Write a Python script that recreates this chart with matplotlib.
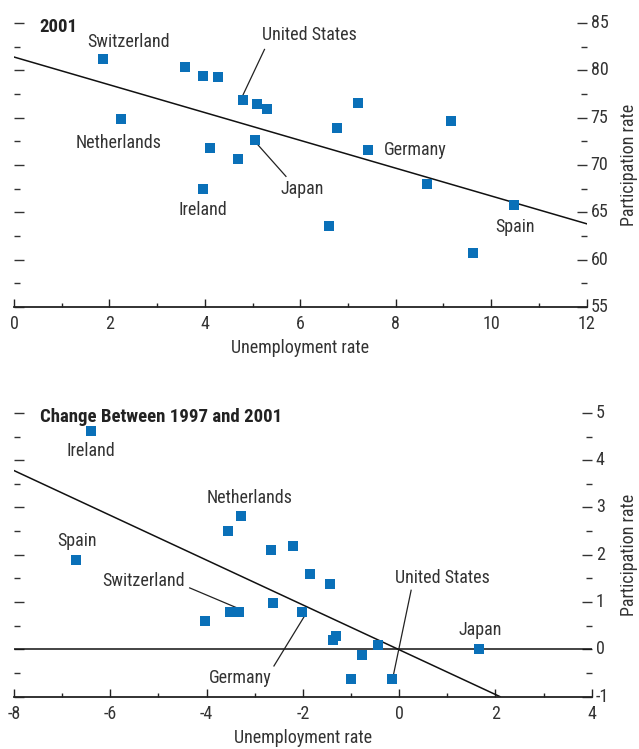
import numpy as np
import matplotlib
matplotlib.use("Agg")
import matplotlib.pyplot as plt
from matplotlib.ticker import MultipleLocator

plt.rcParams['font.family'] = ['Roboto Condensed', 'Liberation Sans', 'DejaVu Sans']
plt.rcParams['axes.unicode_minus'] = False

# 2001 levels
unemp_2001 = [1.86, 3.58, 3.97, 4.27, 4.79, 5.10, 5.31, 2.24, 5.05, 4.10, 4.70, 3.96,
              7.22, 6.78, 9.15, 7.43, 8.66, 10.49, 6.61, 9.63]
part_2001 = [81.2, 80.35, 79.4, 79.3, 76.9, 76.45, 75.9, 74.9, 72.6, 71.8, 70.6, 67.5,
             76.5, 73.9, 74.65, 71.56, 68.0, 65.76, 63.58, 60.73]
fit_2001 = [81.4, 63.8]  # values at x=0 and x=12

# change 1997-2001
unemp_chg = [-6.40, -3.29, -3.56, -6.71, -2.67, -2.21, -1.86, -3.51, -3.32, -2.61, -2.01,
             -4.04, -1.44, -1.31, -1.37, -0.44, -0.78, -0.99, -0.15, 1.65]
part_chg = [4.62, 2.81, 2.51, 1.90, 2.11, 2.19, 1.60, 0.80, 0.80, 0.99, 0.80,
            0.59, 1.39, 0.29, 0.19, 0.09, -0.12, -0.62, -0.62, 0.0]
fit_chg = [3.78, -1.0]  # values at x=-8 and x=2.1
fit_chg_x = [-8, 2.1]

blue = '#0a70b8'
txt = '#333333'
fs = 13

fig = plt.figure(figsize=(6.39, 7.49), dpi=100)
ax1 = fig.add_axes([0.0219, 0.590, 0.896, 0.3794])
ax2 = fig.add_axes([0.0219, 0.0698, 0.904, 0.379])


def style(ax, xlim, ylim, ymaj, ymin, label_x):
    ax.set_xlim(*xlim)
    ax.set_ylim(*ylim)
    for s in ['top', 'left', 'right']:
        ax.spines[s].set_visible(False)
    ax.spines['bottom'].set_linewidth(1.3)
    ax.spines['bottom'].set_color('#222222')
    ax.xaxis.set_major_locator(MultipleLocator(2))
    ax.xaxis.set_minor_locator(MultipleLocator(1))
    ax.yaxis.set_major_locator(MultipleLocator(ymaj))
    ax.yaxis.set_minor_locator(MultipleLocator(ymin))
    ax.tick_params(axis='x', which='both', direction='in', color='#222222', labelsize=fs,
                   labelcolor=txt, pad=6)
    ax.tick_params(axis='x', which='major', length=6, width=1)
    ax.tick_params(axis='x', which='minor', length=3, width=1)
    ax.tick_params(axis='y', which='both', direction='in', left=True, right=True,
                   labelleft=False, labelright=True, color='#333333', labelsize=fs,
                   labelcolor=txt, pad=3)
    ax.tick_params(axis='y', which='major', length=7, width=1)
    ax.tick_params(axis='y', which='minor', length=4, width=1)
    ax.yaxis.set_label_position('right')
    ax.set_ylabel('Participation rate', fontsize=fs, color=txt, rotation=90,
                  va='center', ha='center')
    ax.yaxis.set_label_coords(label_x, 0.5)
    ax.set_xlabel('Unemployment rate', fontsize=fs, color=txt, labelpad=4)
    for lab in ax.get_yticklabels():
        lab.set_verticalalignment('center')


# top panel
style(ax1, (0, 12), (55, 85), 5, 2.5, 1.075)
ax1.plot([0, 12], fit_2001, color='#111111', lw=1.1, zorder=2)
ax1.scatter(unemp_2001, part_2001, marker='s', s=44, color=blue, zorder=3, linewidths=0)
ax1.text(0.045, 0.985, '2001', transform=ax1.transAxes, fontsize=13.5, fontweight='bold',
         color='#222222', va='center', ha='left')
ax1.text(2.4, 83.0, 'Switzerland', fontsize=fs, color=txt, ha='center', va='center')
ax1.text(6.2, 83.7, 'United States', fontsize=fs, color=txt, ha='center', va='center')
ax1.plot([5.25, 4.8], [82.2, 77.4], color='#222222', lw=0.9)
ax1.text(2.2, 72.3, 'Netherlands', fontsize=fs, color=txt, ha='center', va='center')
ax1.text(6.05, 67.5, 'Japan', fontsize=fs, color=txt, ha='center', va='center')
ax1.plot([5.1, 5.7], [72.2, 68.8], color='#222222', lw=0.9)
ax1.text(3.96, 65.2, 'Ireland', fontsize=fs, color=txt, ha='center', va='center')
ax1.text(8.4, 71.6, 'Germany', fontsize=fs, color=txt, ha='center', va='center')
ax1.text(10.5, 63.5, 'Spain', fontsize=fs, color=txt, ha='center', va='center')

# bottom panel
style(ax2, (-8, 4), (-1, 5), 1, 0.5, 1.064)
ax2.axhline(0, color='#111111', lw=1.1, zorder=2)
ax2.plot(fit_chg_x, fit_chg, color='#111111', lw=1.1, zorder=2)
ax2.scatter(unemp_chg, part_chg, marker='s', s=44, color=blue, zorder=3, linewidths=0)
ax2.text(0.045, 0.985, 'Change Between 1997 and 2001', transform=ax2.transAxes, fontsize=13.5,
         fontweight='bold', color='#222222', va='center', ha='left')
ax2.text(-6.4, 4.2, 'Ireland', fontsize=fs, color=txt, ha='center', va='center')
ax2.text(-3.1, 3.2, 'Netherlands', fontsize=fs, color=txt, ha='center', va='center')
ax2.text(-6.7, 2.3, 'Spain', fontsize=fs, color=txt, ha='center', va='center')
ax2.text(-5.3, 1.45, 'Switzerland', fontsize=fs, color=txt, ha='center', va='center')
ax2.plot([-4.35, -3.35], [1.3, 0.87], color='#222222', lw=0.9)
ax2.text(-3.3, -0.6, 'Germany', fontsize=fs, color=txt, ha='center', va='center')
ax2.plot([-2.6, -1.95], [-0.35, 0.73], color='#222222', lw=0.9)
ax2.text(0.9, 1.5, 'United States', fontsize=fs, color=txt, ha='center', va='center')
ax2.plot([0.25, -0.12], [1.25, -0.55], color='#222222', lw=0.9)
ax2.text(1.68, 0.42, 'Japan', fontsize=fs, color=txt, ha='center', va='center')

fig.savefig('out.png', dpi=100)
